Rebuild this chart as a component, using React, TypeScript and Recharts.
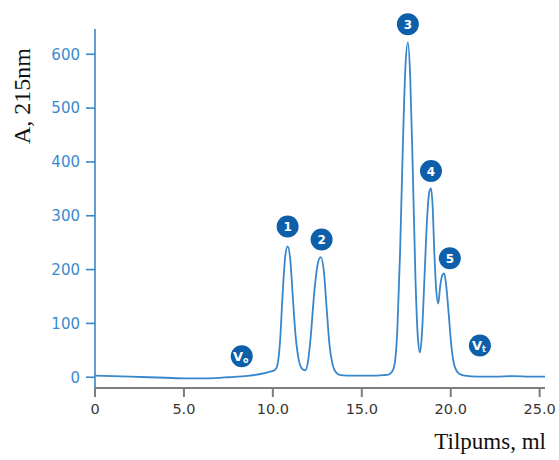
import { LineChart, Line, XAxis, YAxis, ReferenceDot } from 'recharts';

// elution volume (ml) and absorbance at 215 nm
const volume = [
  0, 1, 2, 3, 4, 5, 6, 7, 7.5, 8, 8.7, 9.3, 9.8, 10.1,
  10.25, 10.4, 10.55, 10.7, 10.83, 10.97, 11.12, 11.27, 11.47, 11.67, 11.84,
  11.97, 12.12, 12.32, 12.52, 12.69, 12.87, 13.02, 13.17, 13.37, 13.57, 13.8,
  14.5, 15.5, 16.2, 16.5, 16.7, 16.85, 17.0, 17.15, 17.3, 17.45, 17.59, 17.72, 17.87, 18.02, 18.15, 18.27,
  18.38, 18.53, 18.68, 18.8, 18.89, 18.98, 19.08, 19.19, 19.3, 19.41, 19.53, 19.63, 19.73, 19.88, 20.03, 20.18, 20.33, 20.5, 20.8,
  21.5, 22.5, 23.5, 24.5, 25.3,
];
const absorbance = [
  3, 2, 1, 0, -1, -2, -2, -1, 0, 1, 3, 6, 10, 13,
  22, 65, 155, 226, 243, 222, 150, 80, 30, 15, 13,
  28, 72, 155, 210, 223, 196, 130, 65, 22, 8, 4,
  3, 3, 4, 5, 10, 25, 90, 230, 420, 575, 622, 560, 380, 180, 75, 46,
  80, 190, 300, 345, 351, 320, 230, 160, 137, 170, 190, 193, 175, 120, 60, 25, 12, 6, 3,
  1, 1, 2, 1, 1,
];

// numbered peak markers
const peakNames = ['1', '2', '3', '4', '5'];
const peakNameX = [10.83, 12.74, 17.59, 18.89, 19.95];
const peakNameY = [280, 256, 656, 383, 221];

// void volume and total volume markers
const volumeNames = ['o', 't'];
const volumeNameX = [8.25, 21.64];
const volumeNameY = [39, 59];

const xTicks = [0, 5, 10, 15, 20, 25];
const yTicks = [0, 100, 200, 300, 400, 500, 600];

const data = volume.map((v, i) => ({ ml: v, a: absorbance[i] }));

const LINE = '#3886cb';
const BUBBLE = '#0d5fa9';

function Bubble({ cx, cy, text, sub }: { cx?: number; cy?: number; text: string; sub?: string }) {
  if (cx == null || cy == null) return null;
  return (
    <g>
      <circle cx={cx} cy={cy} r={11} fill={BUBBLE} />
      {sub ? (
        <text x={cx - 1} y={cy + 5} textAnchor="middle" fill="#fff" fontFamily="DejaVu Sans" fontWeight="bold" fontSize={13}>
          V<tspan fontSize={8} dy={2}>{sub}</tspan>
        </text>
      ) : (
        <text x={cx} y={cy + 4.5} textAnchor="middle" fill="#fff" fontFamily="DejaVu Sans" fontWeight="bold" fontSize={12}>
          {text}
        </text>
      )}
    </g>
  );
}

export default function App() {
  return (
    <div style={{ position: 'absolute', left: 0, top: 0, width: 559, height: 460, background: '#fff' }}>
      <LineChart width={559} height={460} data={data} margin={{ top: 29, right: 14, bottom: 42, left: 35 }}>
        <XAxis
          type="number"
          dataKey="ml"
          domain={[0, 25.3]}
          ticks={xTicks}
          allowDataOverflow
          tickFormatter={(v: number) => (v === 0 ? '0' : v.toFixed(1))}
          stroke="#7d7d7d"
          strokeWidth={2}
          tickSize={9}
          tickMargin={7}
          height={30}
          tick={{ fill: '#3a3632', fontSize: 14.5, fontFamily: 'DejaVu Sans' }}
        />
        <YAxis
          type="number"
          domain={[-20, 647]}
          ticks={yTicks}
          allowDataOverflow
          stroke={LINE}
          strokeWidth={1.6}
          tickSize={9}
          tickMargin={6}
          width={60}
          tick={{ fill: '#3a8ad0', fontSize: 15, fontFamily: 'DejaVu Sans' }}
        />
        <Line
          type="monotone"
          dataKey="a"
          stroke={LINE}
          strokeWidth={1.8}
          dot={false}
          isAnimationActive={false}
        />
        {peakNames.map((n, i) => (
          <ReferenceDot
            key={'p' + n}
            x={peakNameX[i]}
            y={peakNameY[i]}
            ifOverflow="visible"
            shape={(p: any) => <Bubble cx={p.cx} cy={p.cy} text={n} />}
          />
        ))}
        {volumeNames.map((s, i) => (
          <ReferenceDot
            key={'v' + s}
            x={volumeNameX[i]}
            y={volumeNameY[i]}
            ifOverflow="visible"
            shape={(p: any) => <Bubble cx={p.cx} cy={p.cy} text="V" sub={s} />}
          />
        ))}
      </LineChart>
      <div
        style={{
          position: 'absolute',
          left: 22,
          top: 96,
          transform: 'translate(-50%, -50%) rotate(-90deg)',
          fontFamily: '"Liberation Serif", serif',
          fontSize: 24,
          whiteSpace: 'nowrap',
          color: '#111',
        }}
      >
        A, 215nm
      </div>
      <div
        style={{
          position: 'absolute',
          right: 13,
          top: 429,
          fontFamily: '"Liberation Serif", serif',
          fontSize: 23,
          whiteSpace: 'nowrap',
          color: '#111',
        }}
      >
        Tilpums, ml
      </div>
    </div>
  );
}
